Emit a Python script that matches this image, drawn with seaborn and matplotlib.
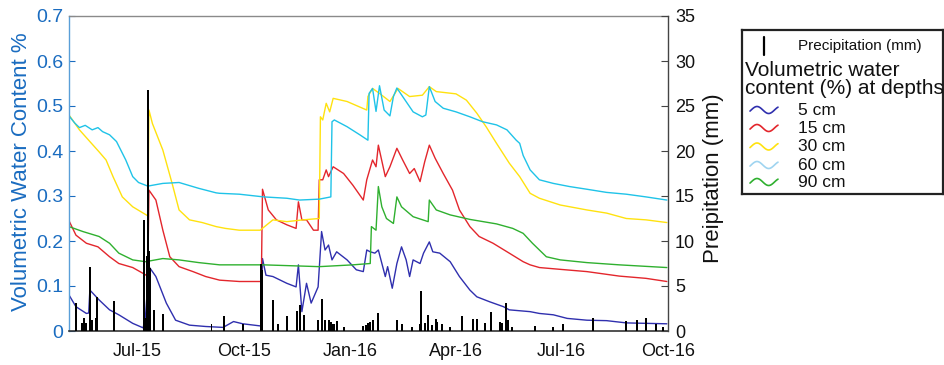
import numpy as np
import pandas as pd
import matplotlib
matplotlib.use("Agg")
import matplotlib.pyplot as plt
import matplotlib.dates as mdates
import seaborn as sns

# ---------------- data (days counted from ORIGIN) ----------------
ORIGIN = "2015-05-03"
END_DAY = 517

d5_days = [0, 6, 15, 17, 18, 26, 35, 43, 55, 64, 66, 69, 75, 84, 92, 104, 118, 133,
           142, 150, 166, 167, 170, 176, 188, 196, 198, 201, 205, 209, 215, 218, 221, 224, 227, 231,
           240, 248, 254, 257, 260, 264, 267, 273, 275, 279, 283, 287, 291, 294, 297, 303, 306, 311,
           314, 320, 329, 337, 346, 352, 363, 375, 380, 398, 406, 418, 430, 447, 464, 481, 498, 516]
d5_vwc = [.080, .054, .039, .040, .091, .069, .047, .036, .017, .007, .032, .143, .121, .062, .024, .013, .010, .008,
          .021, .016, .011, .161, .124, .121, .106, .098, .147, .043, .106, .062, .098, .221, .180, .191, .158, .176,
          .158, .136, .132, .180, .176, .173, .180, .121, .143, .095, .150, .187, .158, .121, .158, .150, .173, .198,
          .176, .173, .154, .121, .091, .076, .065, .054, .047, .043, .039, .036, .028, .024, .023, .018, .017, .016]

d15_days = [0, 6, 15, 25, 35, 43, 55, 66, 68, 69, 75, 81, 87, 95, 107, 118, 130, 147,
            166, 167, 172, 179, 188, 196, 198, 201, 205, 211, 215, 216, 219, 222, 224, 228, 237, 245,
            254, 257, 262, 265, 267, 273, 277, 283, 288, 294, 298, 303, 307, 311, 316, 323, 331, 337,
            346, 354, 366, 380, 392, 398, 406, 424, 447, 475, 498, 516]
d15_vwc = [.245, .213, .195, .187, .165, .150, .141, .125, .121, .313, .291, .224, .165, .143, .132, .121, .113, .110,
           .110, .315, .269, .247, .236, .228, .287, .247, .247, .224, .224, .336, .336, .358, .343, .365, .350, .324,
           .291, .336, .380, .365, .413, .343, .365, .406, .380, .350, .361, .332, .376, .413, .384, .350, .313, .269,
           .232, .210, .195, .173, .154, .147, .141, .137, .132, .122, .117, .110]

d30_days = [0, 9, 18, 26, 32, 38, 46, 55, 66, 68, 69, 72, 81, 89, 95, 104, 115, 127,
            135, 147, 165, 176, 188, 202, 216, 217, 219, 222, 225, 228, 240, 257, 258, 262, 268, 277,
            284, 294, 305, 311, 317, 334, 343, 352, 360, 369, 380, 389, 398, 406, 424, 447, 464, 481,
            498, 516]
d30_vwc = [.480, .447, .421, .398, .380, .343, .298, .276, .259, .256, .491, .461, .402, .328, .269, .247, .241, .232,
           .228, .224, .224, .247, .243, .247, .250, .476, .469, .506, .487, .517, .510, .491, .521, .539, .528, .510,
           .539, .521, .524, .543, .532, .527, .513, .484, .454, .417, .373, .343, .306, .295, .280, .269, .262, .250,
           .247, .241]

d60_days = [0, 5, 9, 14, 20, 25, 29, 35, 41, 49, 55, 60, 68, 81, 95, 112, 127, 130,
            147, 168, 188, 199, 216, 226, 227, 229, 240, 251, 258, 259, 262, 265, 268, 272, 277, 280,
            283, 288, 297, 305, 308, 311, 316, 323, 334, 346, 357, 369, 378, 386, 389, 392, 398, 406,
            418, 432, 447, 464, 481, 498, 516]
d60_vwc = [.478, .462, .452, .457, .447, .452, .443, .436, .421, .380, .343, .330, .322, .328, .330, .317, .307, .306,
           .304, .298, .295, .291, .293, .298, .465, .469, .454, .436, .424, .528, .539, .488, .545, .491, .478, .521,
           .540, .521, .487, .476, .480, .543, .510, .495, .487, .476, .465, .458, .447, .424, .417, .390, .358, .336,
           .328, .321, .315, .308, .304, .298, .291]

d90_days = [0, 12, 26, 35, 43, 55, 66, 81, 95, 112, 130, 168, 216, 245, 260, 261, 265, 267,
            270, 274, 280, 283, 287, 297, 310, 311, 317, 329, 346, 369, 383, 392, 400, 412, 424, 447,
            475, 516]
d90_vwc = [.232, .221, .210, .195, .173, .158, .154, .161, .158, .152, .147, .147, .143, .147, .150, .232, .224, .321,
           .276, .250, .239, .298, .276, .254, .243, .291, .269, .258, .248, .238, .228, .217, .195, .165, .158, .152,
           .147, .141]

precip_days = [6, 11, 13, 15, 18, 20, 23, 24, 39, 65, 66, 67, 68, 69, 70, 73, 81, 123,
               134, 150, 166, 167, 176, 180, 188, 197, 199, 203, 215, 218, 221, 224, 226, 227, 229, 231,
               237, 254, 256, 258, 260, 262, 267, 283, 287, 296, 303, 304, 307, 310, 313, 317, 318, 322,
               329, 339, 349, 352, 359, 364, 372, 374, 377, 379, 382, 402, 418, 426, 452, 481, 490, 498,
               507, 513]
precip_mm = [3.1, 0.9, 1.4, 0.9, 7.1, 1.2, 1.4, 3.8, 3.3, 12.3, 1.5, 8.3, 26.8, 8.9, 7.0, 2.3, 1.9, 0.8,
             1.7, 0.8, 7.5, 6.8, 3.4, 0.8, 1.7, 2.2, 2.9, 1.8, 1.2, 3.6, 1.2, 1.2, 1.0, 0.8, 0.8, 1.1,
             0.5, 0.6, 0.7, 0.9, 1.0, 1.2, 2.0, 1.2, 0.8, 0.5, 0.8, 4.4, 0.9, 1.8, 0.7, 1.3, 1.0, 0.8,
             0.5, 1.7, 1.3, 1.3, 0.9, 2.1, 1.0, 0.9, 3.1, 1.2, 0.5, 0.6, 0.5, 0.8, 1.4, 1.1, 1.2, 1.5,
             0.8, 0.5]

depth_labels = ["5 cm", "15 cm", "30 cm", "60 cm", "90 cm"]
depth_colors = ["#2f2fae", "#e3262c", "#ffe20f", "#1fc3e8", "#2fb02f"]
legend_icon_colors = ["#2f2fae", "#e3262c", "#ffe20f", "#9fd4f0", "#2fb02f"]
x_tick_dates = ["2015-07-01", "2015-10-01", "2016-01-01", "2016-04-01", "2016-07-01", "2016-10-01"]
left_ticks = [0, 0.1, 0.2, 0.3, 0.4, 0.5, 0.6, 0.7]
right_ticks = [0, 5, 10, 15, 20, 25, 30, 35]

# ---------------- build tables ----------------
origin = pd.Timestamp(ORIGIN)
series = [(d5_days, d5_vwc), (d15_days, d15_vwc), (d30_days, d30_vwc), (d60_days, d60_vwc), (d90_days, d90_vwc)]
frames = []
for lab, (dd, vv) in zip(depth_labels, series):
    frames.append(pd.DataFrame({"date": origin + pd.to_timedelta(dd, unit="D"), "vwc": vv, "depth": lab}))
df = pd.concat(frames, ignore_index=True)
pdf = pd.DataFrame({"date": origin + pd.to_timedelta(precip_days, unit="D"), "mm": precip_mm})

# ---------------- style ----------------
sns.set_style("white")
plt.rcParams["font.family"] = ["Liberation Sans", "DejaVu Sans"]

BLUE = "#1a6cc0"
W, H = 944, 365
fig = plt.figure(figsize=(W / 100, H / 100), dpi=100)
ax = fig.add_axes([69 / W, 34 / H, 599 / W, 315 / H])

sns.lineplot(data=df, x="date", y="vwc", hue="depth", hue_order=depth_labels,
             palette=dict(zip(depth_labels, depth_colors)), estimator=None,
             linewidth=1.0, legend=False, ax=ax)

ax2 = ax.twinx()
ax2.bar(pdf["date"], pdf["mm"], width=1.7, color="black", linewidth=0)

x0 = origin
x1 = origin + pd.Timedelta(days=END_DAY)
ax.set_xlim(x0, x1)
ax.set_ylim(0, 0.7)
ax2.set_ylim(0, 35)
ax.set_xticks(pd.to_datetime(x_tick_dates))
ax.xaxis.set_major_formatter(mdates.DateFormatter("%b-%y"))
ax.set_yticks(left_ticks)
ax.set_yticklabels(["0" if t == 0 else f"{t:.1f}" for t in left_ticks])
ax2.set_yticks(right_ticks)
ax.set_xlabel("")
ax.set_ylabel("")

ax.tick_params(axis="y", direction="in", length=4, width=0.8, colors=BLUE, labelsize=14, pad=4)
ax.tick_params(axis="x", direction="in", length=0, labelsize=13, pad=9, colors="#111111")
ax2.tick_params(axis="y", direction="in", length=5, width=0.8, labelsize=13, pad=5,
                color="#444444", labelcolor="#111111")

for s in ["left", "top", "bottom"]:
    ax2.spines[s].set_visible(False)
ax.spines["right"].set_visible(False)
ax.spines["left"].set_color("#5a9fd8")
ax.spines["left"].set_linewidth(1.0)
ax.spines["top"].set_color("#8a8a8a")
ax.spines["top"].set_linewidth(1.0)
ax.spines["bottom"].set_color("#333333")
ax.spines["bottom"].set_linewidth(1.2)
ax2.spines["right"].set_color("#444444")
ax2.spines["right"].set_linewidth(1.0)

fig.text(22 / W, 1 - 172 / H, "Volumetric Water Content %", rotation=90, ha="center", va="center",
         color=BLUE, fontsize=16)
fig.text(714 / W, 1 - 178 / H, "Preipitation (mm)", rotation=90, ha="center", va="center",
         color="#111111", fontsize=16)

# ---------------- legend box ----------------
lax = fig.add_axes([742 / W, 1 - 194 / H, 201 / W, 164 / H])
lax.set_xlim(742, 943)
lax.set_ylim(194, 30)
lax.set_xticks([])
lax.set_yticks([])
for s in lax.spines.values():
    s.set_color("#222222")
    s.set_linewidth(1.6)
lax.plot([764, 764], [36.5, 55], color="black", lw=1.6)
lax.text(798, 46, "Precipitation (mm)", ha="left", va="center", fontsize=11, color="#111111")
lax.text(745, 70, "Volumetric water", ha="left", va="center", fontsize=15, color="#111111")
lax.text(745, 88, "content (%) at depths", ha="left", va="center", fontsize=15, color="#111111")
item_y = [110, 128, 146.5, 165, 182]
t = np.linspace(0, 1, 40)
for lab, col, yy in zip(depth_labels, legend_icon_colors, item_y):
    lax.plot(750 + 28 * t, yy - 3.5 * np.sin(2 * np.pi * (1.2 * t - 0.05)), color=col, lw=1.2)
    lax.text(798, yy, lab, ha="left", va="center", fontsize=12.5, color="#111111")

fig.savefig("out.png", dpi=100)
